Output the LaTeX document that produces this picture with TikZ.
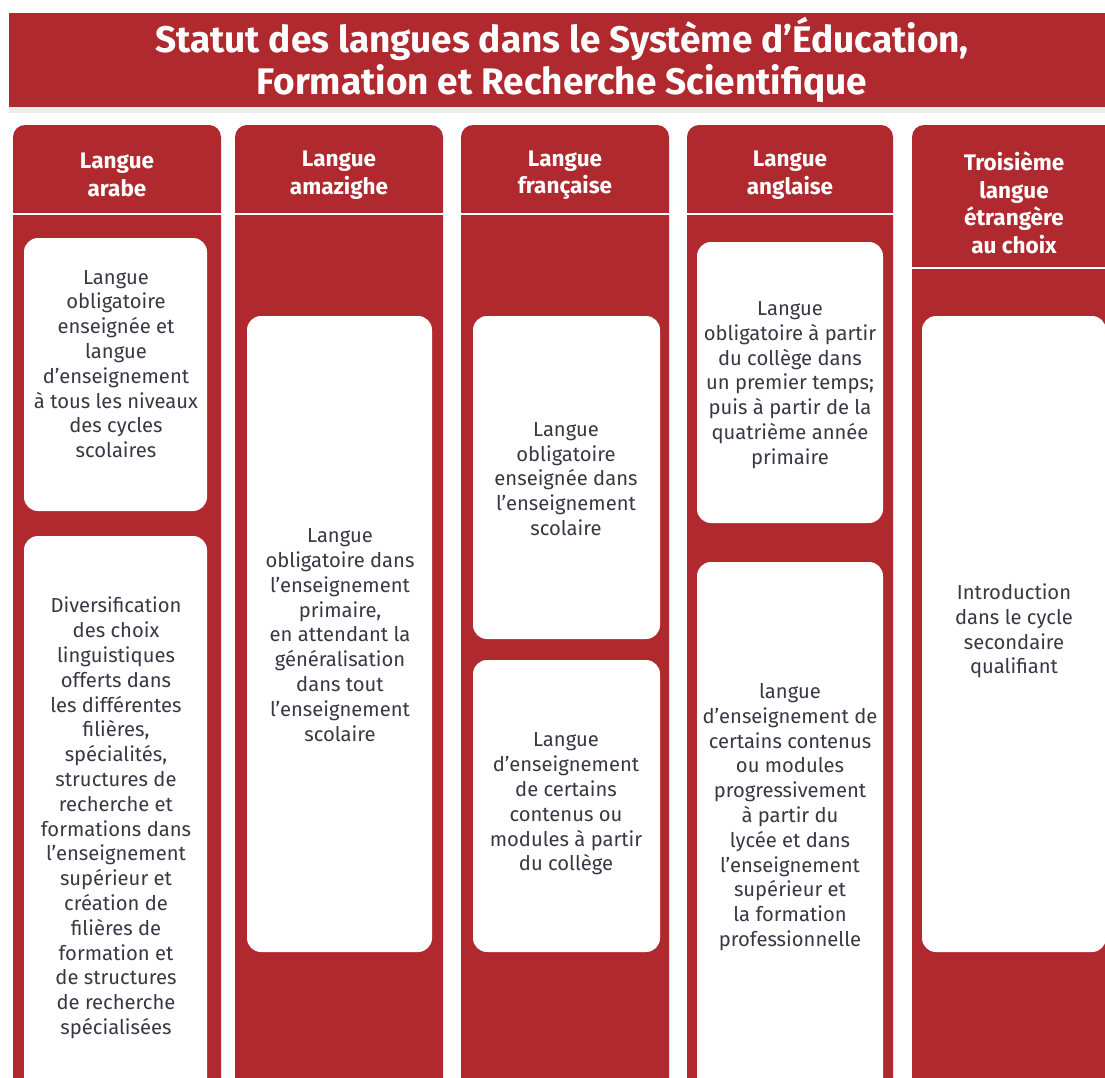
\documentclass[tikz,border=0pt]{standalone}
\usepackage{fontspec}
\setmainfont{Fira Sans}
\usepackage{tikz}
\usepackage{xcolor}
\usetikzlibrary{shadows}
\definecolor{barred}{HTML}{B0292E}
\definecolor{txtgray}{HTML}{383844}

\begin{document}
\begin{tikzpicture}[x=1pt,y=-1pt,
  colbar/.style={fill=barred, rounded corners=12pt},
  wbox/.style={fill=white, rounded corners=14pt},
  sep/.style={white, line width=1.5pt},
  hd/.style={white, align=center, inner sep=0pt, font=\bfseries\fontsize{22.5}{27.5}\selectfont},
  txt/.style={txtgray, align=center, inner sep=0pt, font=\fontsize{20.2}{24.8}\selectfont}]
\useasboundingbox (0,0) rectangle (1105,1077);
\clip (0,0) rectangle (1105,1077);
\fill [white] (0,0) rectangle (1105,1077);
% title banner
\fill [barred, drop shadow={opacity=0.15, shadow xshift=0pt, shadow yshift=-6pt}] (9,13) rectangle (1120,107);
\node [white, align=center, inner sep=0pt, font=\bfseries\fontsize{37}{42}\selectfont] (title) at (562,60)
  {Statut des langues dans le Système d’Éducation,\\Formation et Recherche Scientifique};
% columns
\fill [colbar] (13,125) rectangle (221,1110);
\fill [colbar] (235,125) rectangle (443,1110);
\fill [colbar] (461,125) rectangle (669,1110);
\fill [colbar] (687,125) rectangle (893,1110);
\fill [colbar] (912,125) rectangle (1116,1110);
\draw [sep] (13,214) -- (221,214);
\draw [sep] (235,214) -- (443,214);
\draw [sep] (461,214) -- (669,214);
\draw [sep] (687,214) -- (893,214);
\draw [sep] (912,268) -- (1116,268);
% headers
\node [hd] (hdarabe) at (117,175) {Langue\\arabe};
\node [hd] (hdamaz) at (339,175) {Langue\\amazighe};
\node [hd] (hdfr) at (565,175) {Langue\\française};
\node [hd] (hdang) at (790,175) {Langue\\anglaise};
\node [hd] (hdtrois) at (1014,203) {Troisième\\langue\\étrangère\\au choix};
% white boxes
\fill [wbox] (24,238) rectangle (207,511);
\fill [wbox] (24,536) rectangle (207,1110);
\fill [wbox] (247,316) rectangle (432,952);
\fill [wbox] (473,316) rectangle (660,639);
\fill [wbox] (473,660) rectangle (660,952);
\fill [wbox] (697,242) rectangle (883,523);
\fill [wbox] (697,562) rectangle (883,1110);
\fill [wbox] (922,316) rectangle (1106,952);
% texts
\node [txt] (arabeA) at (116,364) {Langue\\obligatoire\\enseignée et\\langue\\d’enseignement\\à tous les niveaux\\des cycles\\scolaires};
\node [txt] (arabeB) at (116,818) {Diversification\\des choix\\linguistiques\\offerts dans\\les différentes\\filières,\\spécialités,\\structures de\\recherche et\\formations dans\\l’enseignement\\supérieur et\\création de\\filières de\\formation et\\de structures\\de recherche\\spécialisées};
\node [txt] (amaz) at (340,635) {Langue\\obligatoire dans\\l’enseignement\\primaire,\\en attendant la\\généralisation\\dans tout\\l’enseignement\\scolaire};
\node [txt] (frA) at (566,479) {Langue\\obligatoire\\enseignée dans\\l’enseignement\\scolaire};
\node [txt] (frB) at (566,804) {Langue\\d’enseignement\\de certains\\contenus ou\\modules à partir\\du collège};
\node [txt] (angA) at (790,385) {Langue\\obligatoire à partir\\du collège dans\\un premier temps;\\puis à partir de la\\quatrième année\\primaire};
\node [txt] (angB) at (790,817) {langue\\d’enseignement de\\certains contenus\\ou modules\\progressivement\\à partir du\\lycée et dans\\l’enseignement\\supérieur et\\la formation\\professionnelle};
\node [txt] (trois) at (1014,631) {Introduction\\dans le cycle\\secondaire\\qualifiant};
\end{tikzpicture}
\end{document}
